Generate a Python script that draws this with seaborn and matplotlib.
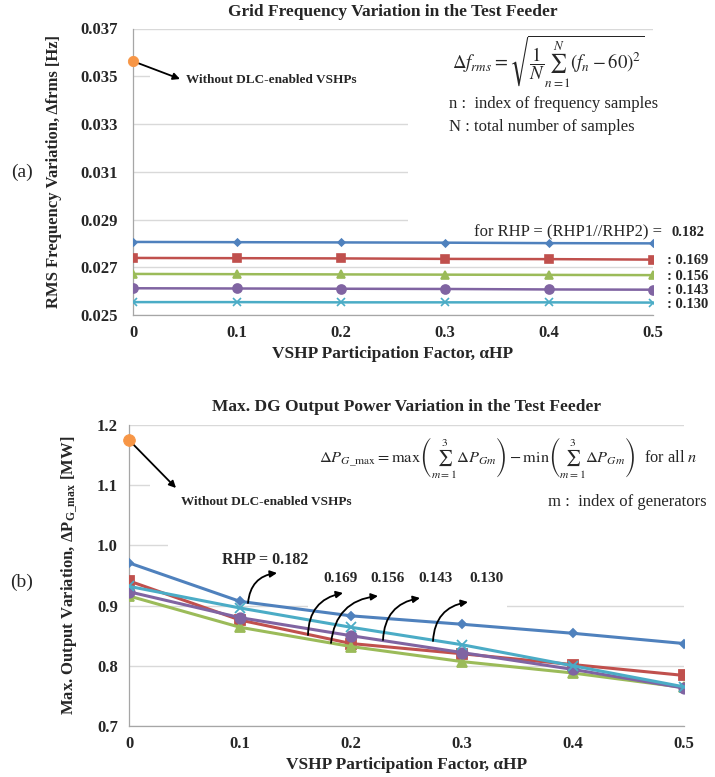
import numpy as np
import pandas as pd
import matplotlib
matplotlib.use('Agg')
import matplotlib.pyplot as plt
from matplotlib.patches import Rectangle
import seaborn as sns

# data
alpha = [0, 0.1, 0.2, 0.3, 0.4, 0.5]
x_ticks = ['0', '0.1', '0.2', '0.3', '0.4', '0.5']
r_hp = ['0.182', '0.169', '0.156', '0.143', '0.130']

# (a) RMS frequency variation [Hz]
freq_0182 = [0.02806, 0.02805, 0.02804, 0.02803, 0.02801, 0.02800]
freq_0169 = [0.02739, 0.02738, 0.02737, 0.02735, 0.02734, 0.02732]
freq_0156 = [0.02672, 0.02671, 0.02670, 0.02669, 0.02668, 0.02667]
freq_0143 = [0.02612, 0.02611, 0.02610, 0.02609, 0.02607, 0.02606]
freq_0130 = [0.02554, 0.02554, 0.02553, 0.02553, 0.02553, 0.02552]
freq_no_dlc = 0.03563

# (b) max DG output variation [MW]
pow_0182 = [0.971, 0.907, 0.883, 0.869, 0.854, 0.837]
pow_0169 = [0.941, 0.876, 0.837, 0.820, 0.802, 0.784]
pow_0156 = [0.916, 0.864, 0.832, 0.807, 0.788, 0.764]
pow_0143 = [0.923, 0.880, 0.850, 0.822, 0.794, 0.763]
pow_0130 = [0.932, 0.896, 0.864, 0.835, 0.800, 0.765]
pow_no_dlc = 1.175

freq_yticks = [0.025, 0.027, 0.029, 0.031, 0.033, 0.035, 0.037]
pow_yticks = [0.7, 0.8, 0.9, 1.0, 1.1, 1.2]

colors = ['#4F81BD', '#C0504D', '#9BBB59', '#8064A2', '#4BACC6']
markers = ['D', 's', '^', 'o', 'x']
msizes = [3.5, 6, 6, 6.5, 6]
orange = '#F79646'

sns.set_style('white')
plt.rcParams['font.family'] = ['Liberation Serif', 'DejaVu Serif']
plt.rcParams['mathtext.fontset'] = 'stix'

W, H = 715, 777
fig = plt.figure(figsize=(W / 100, H / 100), dpi=100)


def fpx(x, y):
    # pixel position (from top-left) -> figure fraction
    return (x / W, 1 - y / H)


def style_axes(ax, yticks, ylabels, ypad):
    for s in ['top', 'right']:
        ax.spines[s].set_visible(False)
    for s in ['left', 'bottom']:
        ax.spines[s].set_color('#A6A6A6')
        ax.spines[s].set_linewidth(0.9)
    ax.set_xlim(0, 0.5)
    ax.set_xticks(alpha)
    ax.set_xticklabels(x_ticks)
    ax.set_yticks(yticks)
    ax.set_yticklabels(ylabels)
    ax.set_ylim(yticks[0], yticks[-1])
    ax.yaxis.grid(True, color='#D9D9D9', linewidth=1.0)
    ax.set_axisbelow(True)
    ax.tick_params(axis='x', length=3.5, width=0.8, color='#A6A6A6', pad=4,
                   labelsize=12)
    ax.tick_params(axis='y', length=3, width=0.8, color='#A6A6A6', pad=ypad,
                   labelsize=12)
    for lab in ax.get_xticklabels() + ax.get_yticklabels():
        lab.set_fontweight('bold')


def mask(ax, x0, y0, x1, y1):
    # white boxes behind the text blocks hide parts of the grid, as in the original
    fx0, fy1 = fpx(x0, y0)
    fx1, fy0 = fpx(x1, y1)
    ax.add_patch(Rectangle((fx0, fy0), fx1 - fx0, fy1 - fy0, transform=fig.transFigure,
                           facecolor='white', edgecolor='none', zorder=1))


# ---------------- (a) ----------------
ax1 = fig.add_axes([133 / W, 1 - 315 / H, 520 / W, 286.5 / H])
freq_series = [freq_0182, freq_0169, freq_0156, freq_0143, freq_0130]
for vals, c, m, ms in zip(freq_series, colors, markers, msizes):
    sns.lineplot(x=alpha, y=vals, ax=ax1, color=c, marker=m, markersize=ms,
                 markeredgecolor=c, markeredgewidth=1.2, linewidth=1.8, zorder=3)
sns.scatterplot(x=[0], y=[freq_no_dlc], ax=ax1, color=orange, s=55,
                edgecolor=orange, zorder=5, clip_on=False)
style_axes(ax1, freq_yticks, ['%.3f' % v for v in freq_yticks], 8)
ax1.set_title('Grid Frequency Variation in the Test Feeder', fontsize=12.5,
              fontweight='bold', pad=9)
ax1.set_xlabel('VSHP Participation Factor, \u03b1HP', fontsize=12.5, fontweight='bold')
ax1.set_ylabel('RMS Frequency Variation, \u0394frms [Hz]', fontsize=12, fontweight='bold')
ax1.yaxis.set_label_coords(-0.137, 0.5)
ax1.xaxis.labelpad = 3
mask(ax1, 150, 62, 660, 92)
mask(ax1, 408, 95, 660, 230)

fig.text(*fpx(548, 62), r'$\Delta f_{rms} = \sqrt{\dfrac{1}{N}\sum_{n=1}^{N}\left(f_n - 60\right)^2}$',
         fontsize=13.5, ha='center', va='center')
fig.text(*fpx(449, 104), 'n :  index of frequency samples', fontsize=12, va='center')
fig.text(*fpx(449, 127), 'N : total number of samples', fontsize=12, va='center')
fig.text(*fpx(662, 232), 'for RHP = (RHP1//RHP2) =', fontsize=12, va='center', ha='right')
fig.text(*fpx(671, 232), r_hp[0], fontsize=10.5, fontweight='bold', va='center')
for lab, yy in zip(r_hp[1:], [260, 277, 291, 305]):
    fig.text(*fpx(667, yy), ': ' + lab, fontsize=10.5, fontweight='bold', va='center')
ax1.annotate('', xy=fpx(180, 79), xycoords='figure fraction',
             xytext=(0, freq_no_dlc), textcoords='data',
             arrowprops=dict(arrowstyle='-|>', color='black', lw=1.3,
                             mutation_scale=10, shrinkA=4, shrinkB=0))
fig.text(*fpx(186, 80), 'Without DLC-enabled VSHPs', fontsize=9.5,
         fontweight='bold', va='center')
fig.text(*fpx(22, 172), '(a)', fontsize=14, ha='center', va='center')

# ---------------- (b) ----------------
ax2 = fig.add_axes([129 / W, 1 - 726 / H, 555 / W, 301 / H])
pow_series = [pow_0182, pow_0169, pow_0156, pow_0143, pow_0130]
for vals, c, m, ms in zip(pow_series, colors, markers, msizes):
    sns.lineplot(x=alpha, y=vals, ax=ax2, color=c, marker=m, markersize=ms + 1,
                 markeredgecolor=c, markeredgewidth=1.3, linewidth=2.2, zorder=3)
sns.scatterplot(x=[0], y=[pow_no_dlc], ax=ax2, color=orange, s=70,
                edgecolor=orange, zorder=5, clip_on=False)
style_axes(ax2, pow_yticks, ['%.1f' % v for v in pow_yticks], 5)
ax2.set_title('Max. DG Output Power Variation in the Test Feeder', fontsize=12.5,
              fontweight='bold', pad=10)
ax2.set_xlabel('VSHP Participation Factor, \u03b1HP', fontsize=12.5, fontweight='bold')
ax2.set_ylabel('Max. Output Variation, \u0394P$_\\mathregular{G\\_max}$ [MW]',
               fontsize=12, fontweight='bold')
ax2.yaxis.set_label_coords(-0.088, 0.5)
ax2.xaxis.labelpad = 3
mask(ax2, 150, 470, 690, 500)
mask(ax2, 168, 530, 690, 560)
mask(ax2, 308, 598, 507, 612)

fig.text(*fpx(508, 458),
         r'$\Delta P_{G\_\max} = \max\left(\sum_{m=1}^{3}\Delta P_{Gm}\right) - \min\left(\sum_{m=1}^{3}\Delta P_{Gm}\right)$  for all $n$',
         fontsize=11.8, ha='center', va='center')
fig.text(*fpx(707, 502), 'm :  index of generators', fontsize=12, va='center', ha='right')
ax2.annotate('', xy=fpx(176, 488), xycoords='figure fraction',
             xytext=(0, pow_no_dlc), textcoords='data',
             arrowprops=dict(arrowstyle='-|>', color='black', lw=1.3,
                             mutation_scale=10, shrinkA=4, shrinkB=0))
fig.text(*fpx(181, 502), 'Without DLC-enabled VSHPs', fontsize=9.5,
         fontweight='bold', va='center')
fig.text(*fpx(22, 582), '(b)', fontsize=14, ha='center', va='center')

fig.text(*fpx(265, 560), 'RHP = ' + r_hp[0], fontsize=11.5, fontweight='bold',
         ha='center', va='center')
for lab, xx in zip(r_hp[1:], [341, 388, 435, 487]):
    fig.text(*fpx(xx, 579), lab, fontsize=11, fontweight='bold', ha='center', va='center')
arrows = [((248, 603), (277, 573)), ((308, 635), (343, 593)), ((331, 643), (378, 596)),
          ((383, 640), (420, 598)), ((433, 641), (468, 602))]
for start, end in arrows:
    ax2.annotate('', xy=fpx(*end), xycoords='figure fraction',
                 xytext=fpx(*start), textcoords='figure fraction',
                 arrowprops=dict(arrowstyle='-|>', color='black', lw=1.3,
                                 mutation_scale=10, shrinkA=0, shrinkB=0,
                                 connectionstyle='arc3,rad=-0.4'))

fig.savefig('out.png', dpi=100)
